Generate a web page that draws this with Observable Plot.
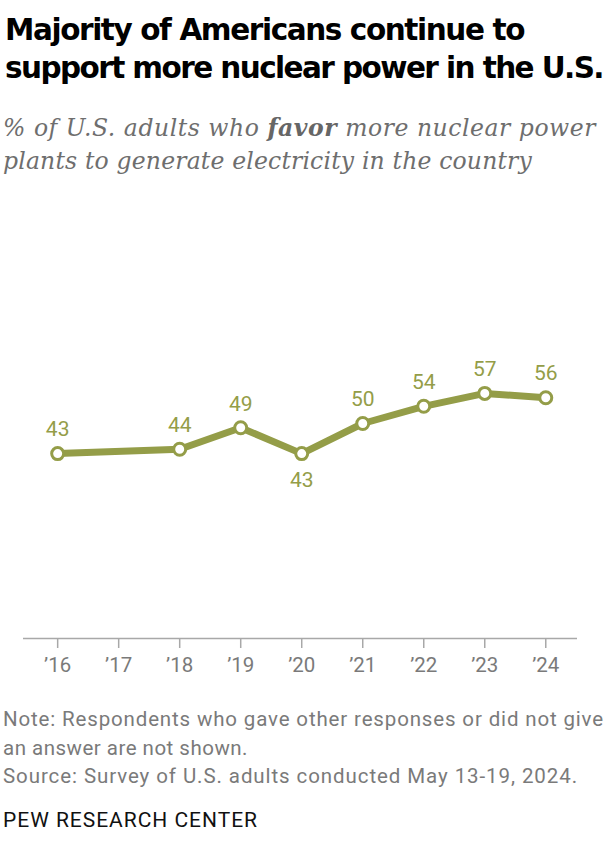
<!DOCTYPE html>
<html>
<head>
<meta charset="utf-8">
<script src="https://cdn.jsdelivr.net/npm/d3@7"></script>
<script src="https://cdn.jsdelivr.net/npm/@observablehq/plot@0.6"></script>
<style>
  body { margin: 0; width: 611px; background: #fff; }
  .line { position: absolute; white-space: nowrap; display: block; }
  .title { font-family: "DejaVu Sans", sans-serif; font-weight: 700; font-size: 29.5px; line-height: 38px; color: #000; }
  .subtitle { font-family: "DejaVu Serif", serif; font-style: italic; font-size: 23.5px; line-height: 33px; color: #6e6e6e; }
  .subtitle b { color: #666; }
  .note { font-family: Roboto, sans-serif; font-size: 20.5px; line-height: 28.5px; color: #7a7a7a; }
  .brand { font-family: Roboto, sans-serif; font-size: 21px; line-height: 28px; color: #111; }
  #chart { position: absolute; left: 0; top: 195px; }
</style>
</head>
<body>
<span class="line title" style="left:5px;top:11px" data-w="519">Majority of Americans continue to</span>
<span class="line title" style="left:5px;top:49px" data-w="598">support more nuclear power in the U.S.</span>
<span class="line subtitle" style="left:3px;top:112px" data-w="593">% of U.S. adults who <b>favor</b> more nuclear power</span>
<span class="line subtitle" style="left:3px;top:145px" data-w="529">plants to generate electricity in the country</span>
<div id="chart"></div>
<span class="line note" style="left:3px;top:705px" data-w="601">Note: Respondents who gave other responses or did not give</span>
<span class="line note" style="left:3px;top:733.5px" data-w="245">an answer are not shown.</span>
<span class="line note" style="left:3px;top:762px" data-w="575">Source: Survey of U.S. adults conducted May 13-19, 2024.</span>
<span class="line brand" style="left:3px;top:806px" data-w="255">PEW RESEARCH CENTER</span>
<script>
// Survey years and share favoring more nuclear power plants
const years = [2016, 2018, 2019, 2020, 2021, 2022, 2023, 2024];
const favor = [43, 44, 49, 43, 50, 54, 57, 56];
// Axis tick years (2017 had no survey)
const tickYears = [2016, 2017, 2018, 2019, 2020, 2021, 2022, 2023, 2024];
// Years whose value label sits below the point
const labelBelow = [2020];

// Stretch each text line to its set width with letter-spacing
function fitLines() {
  document.querySelectorAll(".line[data-w]").forEach(el => {
    el.style.letterSpacing = "0px";
    const w = el.getBoundingClientRect().width;
    const n = el.textContent.length;
    el.style.letterSpacing = ((+el.dataset.w - w) / n) + "px";
  });
}
fitLines();
if (document.fonts && document.fonts.ready) document.fonts.ready.then(fitLines);

const data = years.map((year, i) => ({year, value: favor[i], below: labelBelow.includes(year)}));
const olive = "#949d48";

const chart = Plot.plot({
  width: 611,
  height: 490,
  marginLeft: 23,
  marginRight: 34,
  marginTop: 13,
  marginBottom: 47,
  style: {fontFamily: "Roboto, sans-serif", background: "transparent"},
  x: {domain: [2015.44, 2024.52], axis: null},
  y: {domain: [0, 100], axis: null},
  marks: [
    Plot.ruleY([0], {stroke: "#a8a8a8", strokeWidth: 1.5}),
    Plot.axisX(tickYears, {
      label: null,
      tickSize: 10,
      tickPadding: 9,
      stroke: "#a8a8a8",
      strokeWidth: 1.5,
      fill: "#7a7a7a",
      fontSize: 20.5,
      tickFormat: d => "\u2019" + String(d).slice(2)
    }),
    Plot.line(data, {x: "year", y: "value", stroke: olive, strokeWidth: 7, strokeLinejoin: "round", strokeLinecap: "round"}),
    Plot.dot(data, {x: "year", y: "value", r: 6, fill: "#fff", stroke: olive, strokeWidth: 3}),
    Plot.text(data.filter(d => !d.below), {x: "year", y: "value", text: d => String(d.value), dy: -24, fill: olive, fontSize: 21}),
    Plot.text(data.filter(d => d.below), {x: "year", y: "value", text: d => String(d.value), dy: 27, fill: olive, fontSize: 21})
  ]
});
document.getElementById("chart").appendChild(chart);
</script>
</body>
</html>
